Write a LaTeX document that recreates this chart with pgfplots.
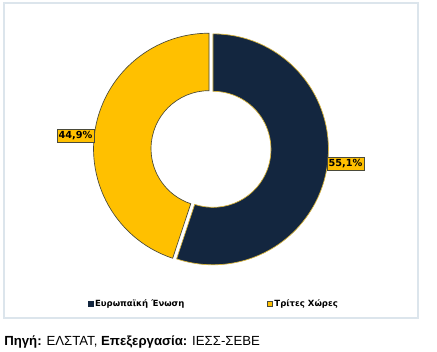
\documentclass[border=0pt]{standalone}
\usepackage{fontspec}
\setmainfont{Liberation Sans}
\newfontfamily\lgfont{DejaVu Sans}
\usepackage{pgfplots}
\usepackage{pgfplotstable}
\pgfplotsset{compat=1.18}
\definecolor{navyc}{HTML}{13263F}
\definecolor{goldc}{HTML}{FFC000}
\definecolor{framec}{HTML}{DCE5EC}
\definecolor{edgeD}{HTML}{4A4A3A}
\definecolor{edgeY}{HTML}{D9B43A}

\pgfplotstableread{
name value
EU 55.1
TC 44.9
}\sharetable
\pgfplotstablegetelem{0}{value}\of\sharetable \let\vA\pgfplotsretval
\pgfplotstablegetelem{1}{value}\of\sharetable \let\vB\pgfplotsretval
\pgfmathsetmacro\angA{90-\vA*3.6}
\pgfmathsetmacro\angB{\angA-\vB*3.6}
\pgfmathsetmacro\midA{(90+\angA)/2}
\pgfmathsetmacro\midB{(\angA+\angB)/2}
\def\Ro{86.6pt}
\def\Ri{43.5pt}
\def\Rd{43.1pt}

\begin{document}
\begin{tikzpicture}
\begin{axis}[
  scale only axis, width=327.75pt, height=264pt,
  xmin=0, xmax=437, ymin=0, ymax=352, y dir=reverse,
  hide axis, clip=false,
  legend columns=2,
  legend style={at={(0.489,0.136)}, anchor=center, draw=none, fill=none,
    font=\lgfont\bfseries\fontsize{6.4pt}{7pt}\selectfont,
    nodes={inner xsep=1.2pt},
    /tikz/every even column/.append style={column sep=61pt},
    inner sep=0pt},
  legend image code/.code={\draw[#1] (0pt,-1.9pt) rectangle (3.8pt,1.9pt);},
]
\path (axis cs:0,0) rectangle (axis cs:437,352);
\draw[framec, line width=0.8pt] (axis cs:4,3) rectangle (axis cs:418,318);

% European Union slice
\filldraw[fill=navyc, draw=edgeY, line width=0.5pt, shift={(\midA:1.5pt)}]
  (axis cs:211,149) ++(90:\Ro) arc[start angle=90, end angle=\angA, radius=\Ro]
  -- ++(\angA:-\Rd) arc[start angle=\angA, end angle=90, radius=\Ri] -- cycle;
% Third countries slice
\filldraw[fill=goldc, draw=edgeD, line width=0.5pt, shift={(\midB:1.5pt)}]
  (axis cs:211,149) ++(\angA:\Ro) arc[start angle=\angA, end angle=\angB, radius=\Ro]
  -- ++(\angB:-\Rd) arc[start angle=\angB, end angle=\angA, radius=\Ri] -- cycle;

\node[fill=goldc, draw=edgeD, line width=0.6pt, inner xsep=1.2pt, inner ysep=1.4pt,
  font=\lgfont\bfseries\fontsize{7.3pt}{8pt}\selectfont] at (axis cs:345.5,164) {55,1\%};
\node[fill=goldc, draw=edgeD, line width=0.6pt, inner xsep=1.2pt, inner ysep=1.4pt,
  font=\lgfont\bfseries\fontsize{7.3pt}{8pt}\selectfont] at (axis cs:75.5,136) {44,9\%};

\addlegendimage{fill=navyc, draw=navyc}
\addlegendentry{Ευρωπαϊκή Ένωση}
\addlegendimage{fill=goldc, draw=edgeD, line width=0.3pt}
\addlegendentry{Τρίτες Χώρες}

\node[anchor=base west, inner sep=0pt, font=\fontsize{9.9pt}{12pt}\selectfont]
  at (axis cs:4,345.5) {\textbf{Πηγή:} ΕΛΣΤΑΤ, \textbf{Επεξεργασία:} ΙΕΣΣ-ΣΕΒΕ};
\end{axis}
\end{tikzpicture}
\end{document}
